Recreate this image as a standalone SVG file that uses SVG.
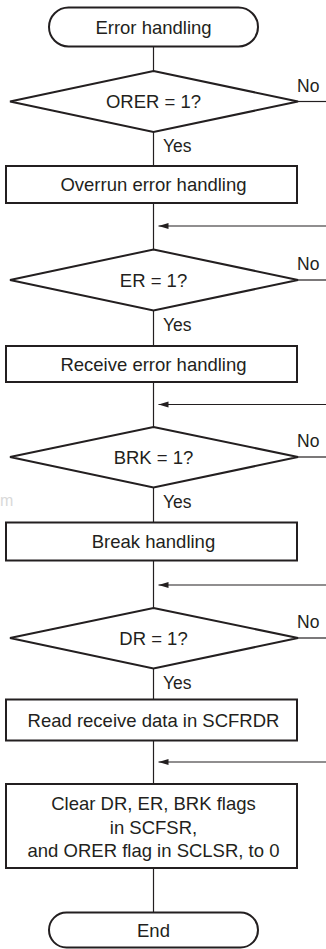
<svg xmlns="http://www.w3.org/2000/svg" width="326" height="949" viewBox="0 0 326 949">
<style>
  .shape { fill: #fff; stroke: #231f20; stroke-width: 2; }
  .conn { fill: none; stroke: #231f20; stroke-width: 1.2; }
  text { font-family: "Liberation Sans", Arial, sans-serif; font-size: 18.5px; fill: #231f20; }
  .c { text-anchor: middle; }
  .lbl { font-size: 17.5px; }
  .wm { fill: #d9d9d9; font-size: 16px; }
</style>
<defs>
  <marker id="arr" markerUnits="userSpaceOnUse" markerWidth="11" markerHeight="7" refX="10" refY="3" orient="auto">
    <path d="M0,0 L10,3 L0,6 z" fill="#231f20"/>
  </marker>
</defs>
<rect width="326" height="949" fill="#fff"/>
<text class="wm" x="0" y="506">m</text>
<g id="connectors">
  <line class="conn" x1="153.5" y1="46.5" x2="153.5" y2="71"/>
  <line class="conn" x1="153.5" y1="132" x2="153.5" y2="166"/>
  <line class="conn" x1="153.5" y1="203" x2="153.5" y2="249.5"/>
  <line class="conn" x1="153.5" y1="310.5" x2="153.5" y2="346"/>
  <line class="conn" x1="153.5" y1="382" x2="153.5" y2="427"/>
  <line class="conn" x1="153.5" y1="487.5" x2="153.5" y2="522.5"/>
  <line class="conn" x1="153.5" y1="560.5" x2="153.5" y2="608"/>
  <line class="conn" x1="153.5" y1="668.5" x2="153.5" y2="699.5"/>
  <line class="conn" x1="153.5" y1="740.5" x2="153.5" y2="784"/>
  <line class="conn" x1="153.5" y1="868" x2="153.5" y2="912.5"/>
  <line class="conn" x1="298" y1="101.5" x2="326" y2="101.5"/>
  <line class="conn" x1="298" y1="280" x2="326" y2="280"/>
  <line class="conn" x1="298" y1="457" x2="326" y2="457"/>
  <line class="conn" x1="298" y1="638" x2="326" y2="638"/>
  <line class="conn" x1="326" y1="226" x2="158.5" y2="226" marker-end="url(#arr)"/>
  <line class="conn" x1="326" y1="404.5" x2="158.5" y2="404.5" marker-end="url(#arr)"/>
  <line class="conn" x1="326" y1="585" x2="158.5" y2="585" marker-end="url(#arr)"/>
  <line class="conn" x1="326" y1="762" x2="158.5" y2="762" marker-end="url(#arr)"/>
  <text class="lbl" x="297" y="92">No</text>
  <text class="lbl" x="163" y="152">Yes</text>
  <text class="lbl" x="297" y="270">No</text>
  <text class="lbl" x="163" y="331">Yes</text>
  <text class="lbl" x="297" y="447">No</text>
  <text class="lbl" x="163" y="508">Yes</text>
  <text class="lbl" x="297" y="628">No</text>
  <text class="lbl" x="163" y="689">Yes</text>
</g>
<g id="start">
  <rect class="shape" x="49" y="7.5" width="209" height="39" rx="19.5"/>
  <text class="c" x="153.5" y="34">Error handling</text>
</g>
<g id="d-orer">
  <polygon class="shape" points="153.5,71 298,101.5 153.5,132 10,101.5"/>
  <text class="c" x="153.5" y="108">ORER = 1?</text>
</g>
<g id="overrun">
  <rect class="shape" x="6" y="166" width="291" height="37"/>
  <text class="c" x="153.5" y="191">Overrun error handling</text>
</g>
<g id="d-er">
  <polygon class="shape" points="153.5,249.5 298,280 153.5,310.5 10,280"/>
  <text class="c" x="153.5" y="287">ER = 1?</text>
</g>
<g id="receive">
  <rect class="shape" x="6" y="346" width="291" height="36"/>
  <text class="c" x="153.5" y="370.5">Receive error handling</text>
</g>
<g id="d-brk">
  <polygon class="shape" points="153.5,427 298,457 153.5,487.5 10,457"/>
  <text class="c" x="153.5" y="464">BRK = 1?</text>
</g>
<g id="break">
  <rect class="shape" x="6" y="522.5" width="291" height="38"/>
  <text class="c" x="153.5" y="548">Break handling</text>
</g>
<g id="d-dr">
  <polygon class="shape" points="153.5,608 298,638 153.5,668.5 10,638"/>
  <text class="c" x="153.5" y="645">DR = 1?</text>
</g>
<g id="read">
  <rect class="shape" x="6" y="699.5" width="291" height="41"/>
  <text class="c" x="153.5" y="726.5">Read receive data in SCFRDR</text>
</g>
<g id="clear">
  <rect class="shape" x="6" y="784" width="291" height="84"/>
  <text class="c" x="153.5" y="810">Clear DR, ER, BRK flags</text>
  <text class="c" x="153.5" y="833.5">in SCFSR,</text>
  <text class="c" x="153.5" y="857">and ORER flag in SCLSR, to 0</text>
</g>
<g id="end">
  <rect class="shape" x="49" y="912.5" width="209" height="35" rx="17.5"/>
  <text class="c" x="153.5" y="937">End</text>
</g>
</svg>
